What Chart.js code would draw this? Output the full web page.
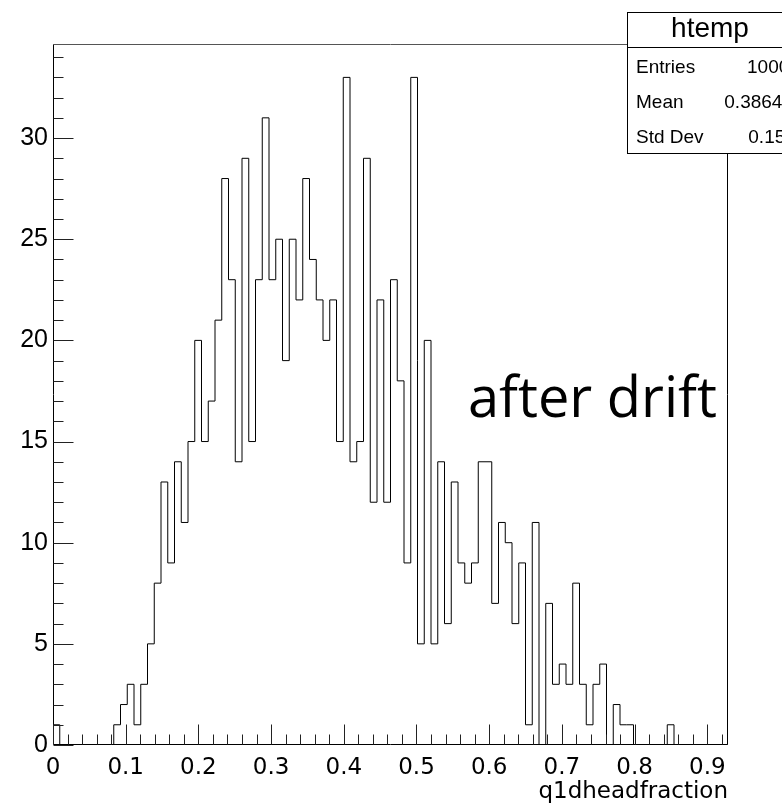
<!DOCTYPE html>
<html>
<head>
<meta charset="utf-8">
<script src="https://cdn.jsdelivr.net/npm/chart.js@4.4.0/dist/chart.umd.min.js"></script>
<style>
  html, body { margin: 0; padding: 0; background: #fff; }
</style>
</head>
<body>
<canvas id="myChart" width="782" height="806"></canvas>
<script>
// histogram contents, 100 bins
const binCounts = [
  1, 0, 0, 0, 0, 0, 0, 0, 0, 1,
  2, 3, 1, 3, 5, 8, 13, 9, 14, 11,
  15, 20, 15, 17, 21, 28, 23, 14, 29, 15,
  23, 31, 23, 25, 19, 25, 22, 28, 24, 22,
  20, 22, 15, 33, 14, 15, 29, 12, 22, 12,
  23, 18, 9, 33, 5, 20, 5, 14, 6, 13,
  9, 8, 9, 14, 14, 7, 11, 10, 6, 9,
  1, 11, 0, 7, 3, 4, 3, 8, 3, 1,
  3, 4, 0, 2, 1, 1, 0, 0, 0, 0,
  0, 1, 0, 0, 0, 0, 0, 0, 0, 0,
];
const xMin = 0;
const xMax = 0.9285;
const yMax = 34.65;
const xTickLabels = [0, 0.1, 0.2, 0.3, 0.4, 0.5, 0.6, 0.7, 0.8, 0.9];
const yTickLabels = [0, 5, 10, 15, 20, 25, 30];
const histName = "htemp";
const statNames = ["Entries", "Mean", "Std Dev"];
const statValues = ["1000", "0.3864", "0.1537"];
const xTitle = "q1dheadfraction";
const overlayText = "after drift";

const binWidth = (xMax - xMin) / binCounts.length;
const points = binCounts.map((c, i) => ({ x: xMin + i * binWidth, y: c }));
points.push({ x: xMax, y: binCounts[binCounts.length - 1] });

const rootFrame = {
  id: "rootFrame",
  afterDraw(chart) {
    const ctx = chart.ctx;
    const a = chart.chartArea;
    const xs = chart.scales.x;
    const ys = chart.scales.y;
    const L = Math.round(a.left) + 0.5, R = Math.round(a.right) - 0.5;
    const T = Math.round(a.top) + 0.5, B = Math.round(a.bottom) - 0.5;
    ctx.save();
    ctx.lineWidth = 1;
    // frame
    ctx.strokeStyle = "#555";
    ctx.beginPath(); ctx.moveTo(L, T); ctx.lineTo(R, T); ctx.stroke();
    ctx.strokeStyle = "#000";
    ctx.beginPath(); ctx.moveTo(R, T); ctx.lineTo(R, B); ctx.stroke();
    ctx.beginPath(); ctx.moveTo(L, T); ctx.lineTo(L, B); ctx.lineTo(R, B); ctx.stroke();
    // x ticks, pointing inward
    ctx.strokeStyle = "#222";
    for (let k = 0; k * 0.02 <= xMax; k++) {
      const px = Math.round(xs.getPixelForValue(k * 0.02)) + 0.5;
      const len = k % 5 === 0 ? 20 : 10;
      ctx.beginPath(); ctx.moveTo(px, B); ctx.lineTo(px, B - len); ctx.stroke();
    }
    // y ticks
    for (let v = 0; v <= yMax; v++) {
      const py = Math.round(ys.getPixelForValue(v)) + 0.5;
      const len = v % 5 === 0 ? 20 : 10;
      ctx.beginPath(); ctx.moveTo(L, py); ctx.lineTo(L + len, py); ctx.stroke();
    }
    // stats box
    ctx.fillStyle = "#fff";
    ctx.fillRect(627.5, 12.5, 170, 141);
    ctx.strokeStyle = "#000";
    ctx.strokeRect(627.5, 12.5, 170, 141);
    ctx.beginPath(); ctx.moveTo(627.5, 47.5); ctx.lineTo(797.5, 47.5); ctx.stroke();
    ctx.fillStyle = "#000";
    ctx.font = "28px 'Liberation Sans', Arial, sans-serif";
    ctx.textAlign = "center";
    ctx.textBaseline = "alphabetic";
    ctx.fillText(histName, 710, 37);
    ctx.font = "19px 'Liberation Sans', Arial, sans-serif";
    ctx.textAlign = "left";
    const rowY = [73, 108, 143];
    const valX = [747, 724.3, 748.3];
    statNames.forEach((n, i) => {
      ctx.fillText(n, 636, rowY[i]);
      ctx.fillText(statValues[i], valX[i], rowY[i]);
    });
    // overlay label
    ctx.font = "56px 'Open Sans', sans-serif";
    ctx.fillText(overlayText, 468, 417);
    ctx.restore();
  },
};

const ctx = document.getElementById("myChart");
const chart = new Chart(ctx, {
  type: "line",
  data: {
    datasets: [
      {
        label: histName,
        data: points,
        stepped: "before",
        borderColor: "#000",
        borderWidth: 1,
        pointRadius: 0,
        fill: false,
        tension: 0,
      },
    ],
  },
  options: {
    responsive: false,
    animation: false,
    devicePixelRatio: 1,
    layout: { padding: { top: 44, right: 54, left: 0, bottom: 0 } },
    plugins: { legend: { display: false }, tooltip: { enabled: false } },
    scales: {
      x: {
        type: "linear",
        min: xMin,
        max: xMax,
        grid: { display: false, drawTicks: false },
        border: { display: false },
        afterBuildTicks: (s) => { s.ticks = xTickLabels.map((v) => ({ value: v })); },
        afterFit: (s) => { s.height = 61; },
        ticks: {
          color: "#000",
          padding: 9,
          maxRotation: 0,
          autoSkip: false,
          font: { family: "'DejaVu Sans', sans-serif", size: 23 },
          callback: (v) => String(Math.round(v * 10) / 10),
        },
        title: {
          display: true,
          text: xTitle,
          align: "end",
          color: "#000",
          padding: { top: 0, bottom: 0 },
          font: { family: "'DejaVu Sans', sans-serif", size: 23 },
        },
      },
      y: {
        type: "linear",
        min: 0,
        max: yMax,
        grid: { display: false, drawTicks: false },
        border: { display: false },
        afterBuildTicks: (s) => { s.ticks = yTickLabels.map((v) => ({ value: v })); },
        afterFit: (s) => { s.width = 53; },
        ticks: {
          color: "#000",
          padding: 5,
          autoSkip: false,
          font: { family: "'Liberation Sans', Arial, sans-serif", size: 25 },
        },
      },
    },
  },
  plugins: [rootFrame],
});
</script>
</body>
</html>
